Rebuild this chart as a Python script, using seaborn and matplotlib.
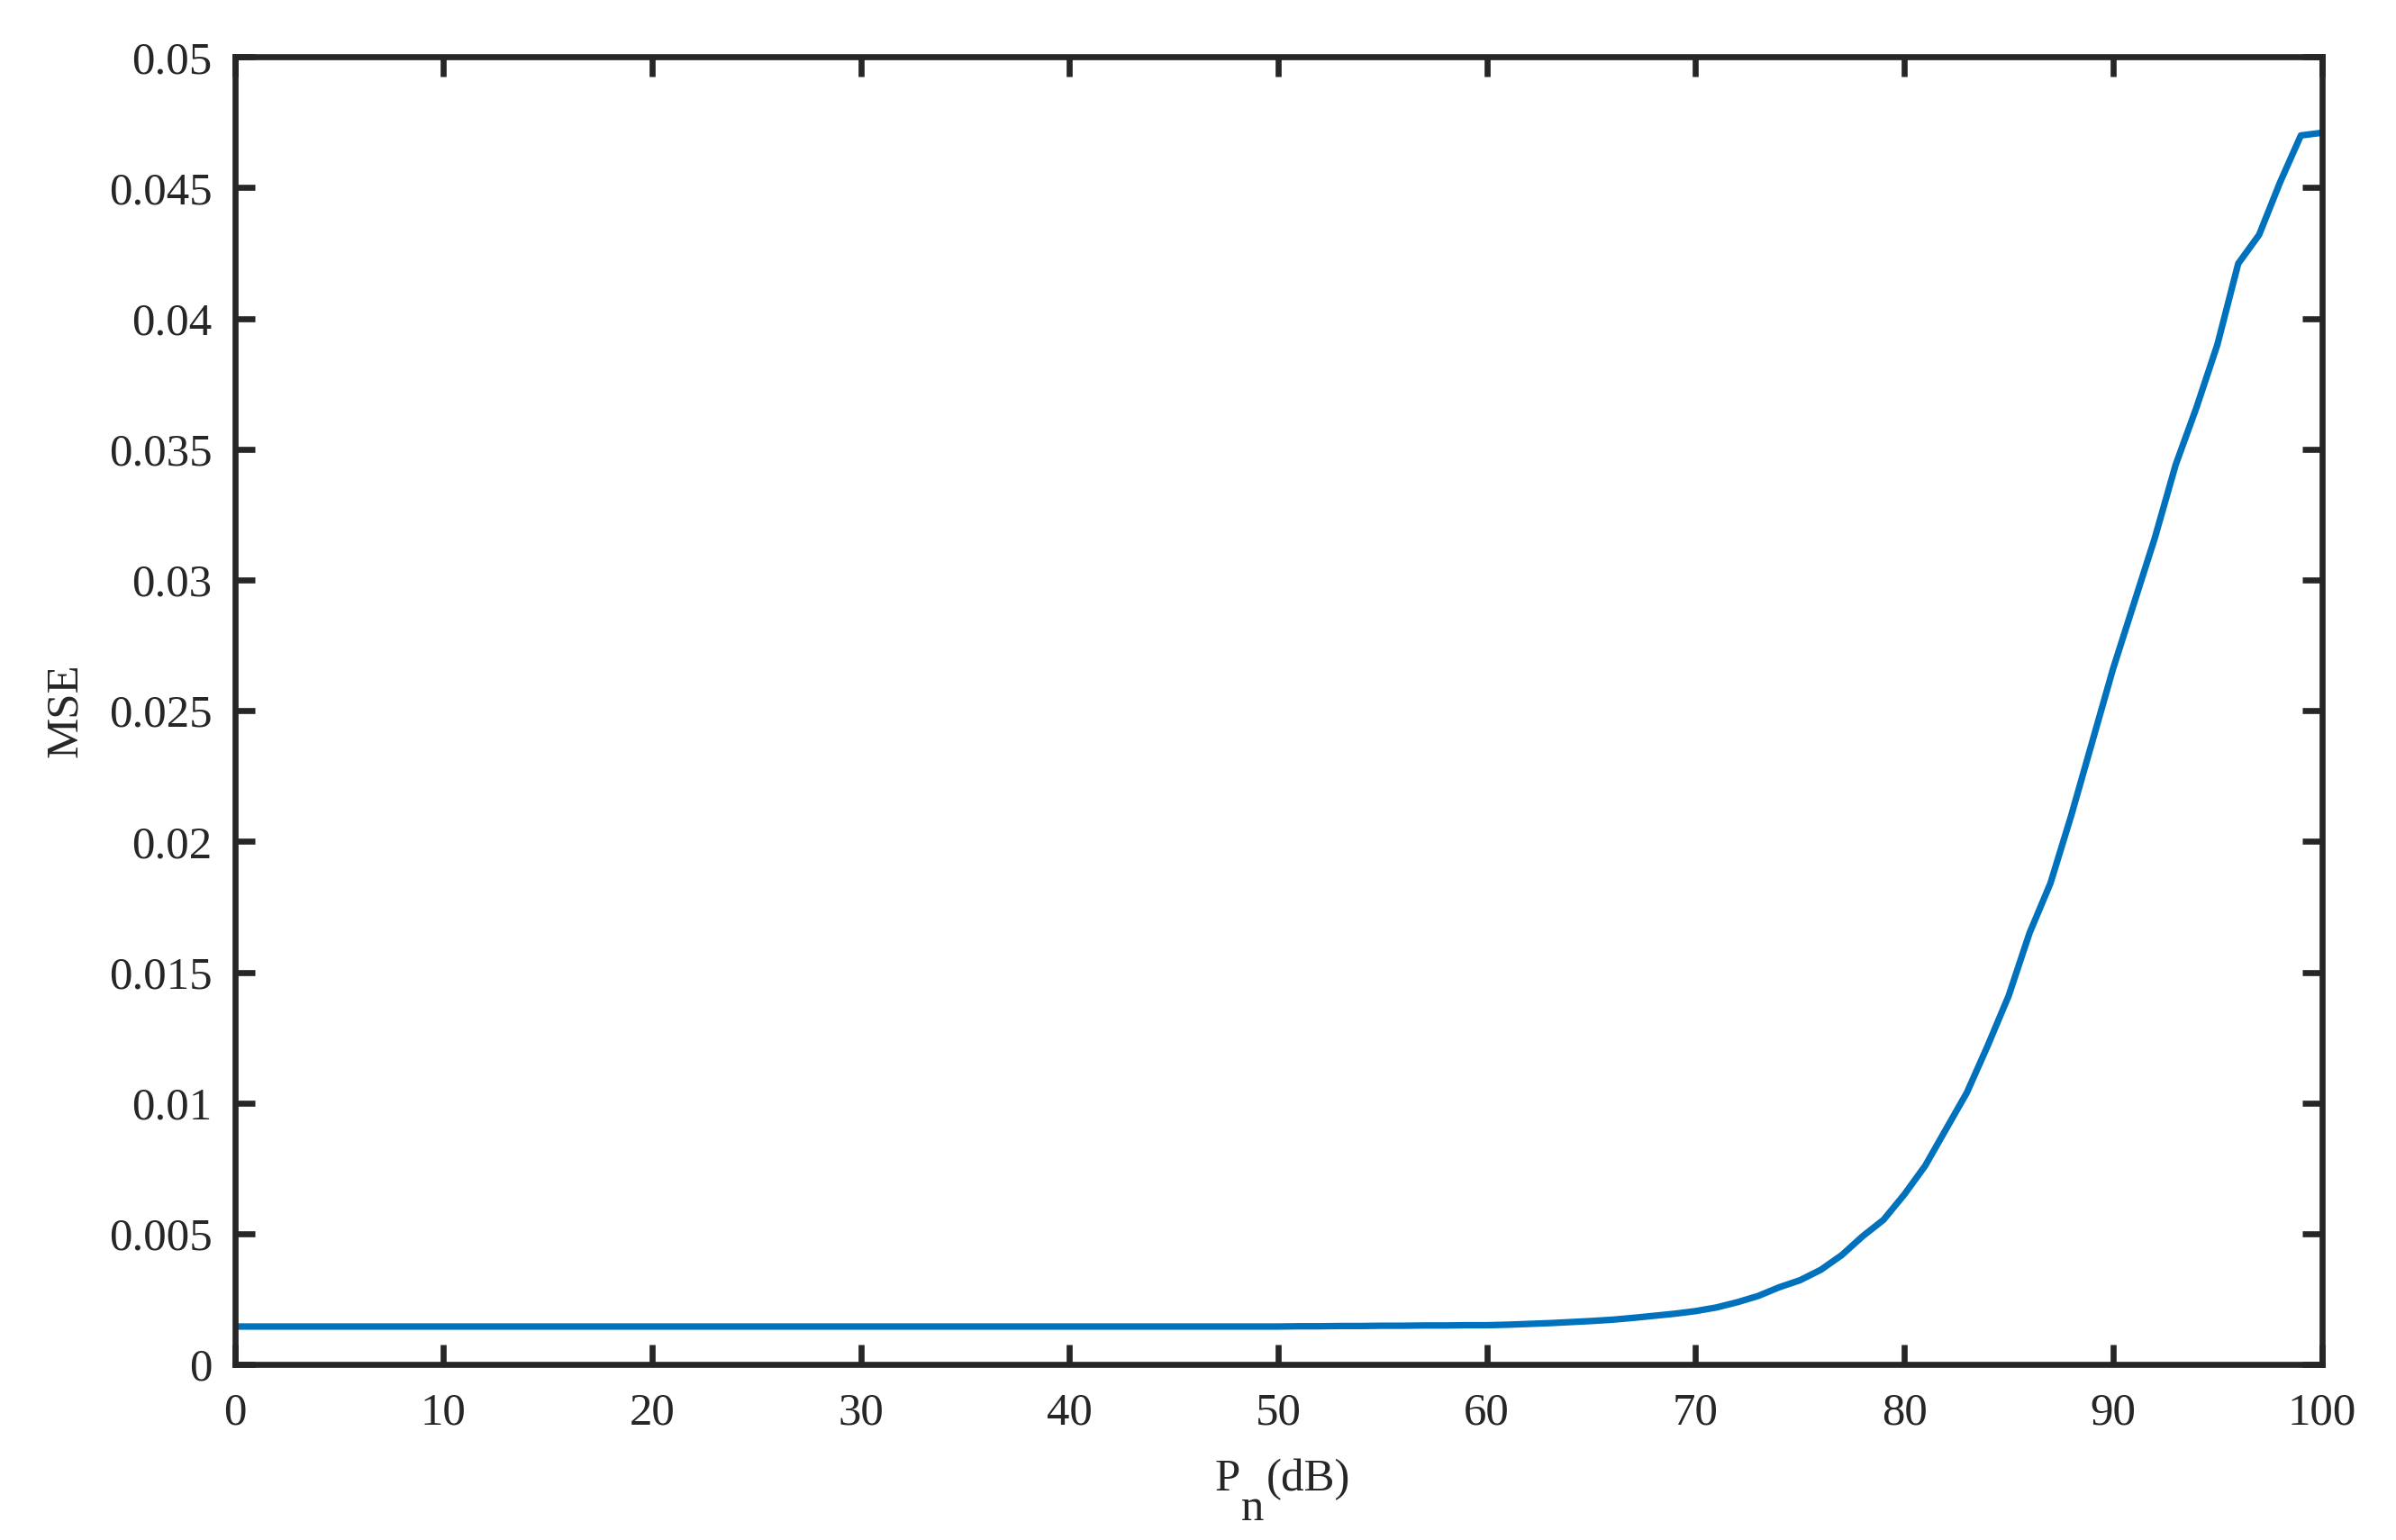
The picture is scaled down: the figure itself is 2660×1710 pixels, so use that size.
import numpy as np
import pandas as pd
import matplotlib
matplotlib.use("Agg")
import matplotlib.pyplot as plt
import seaborn as sns

# noise power (dB) and MSE
pn_db = list(range(0, 101))
mse_flat = [0.00145] * 51 + [0.00146, 0.00146, 0.00147, 0.00147, 0.00148,
                             0.00148, 0.00149, 0.00149, 0.00150]
mse_tail = [0.00150, 0.00152, 0.00155, 0.00158, 0.00162, 0.00166, 0.00171,
            0.00178, 0.00186, 0.00194, 0.00204, 0.00218, 0.00238, 0.00262,
            0.00295, 0.00322, 0.00362, 0.00418, 0.00490, 0.00553, 0.00650,
            0.00760, 0.00900, 0.01040, 0.01220, 0.01410, 0.01650, 0.01840,
            0.02100, 0.02380, 0.02660, 0.02910, 0.03160, 0.03440, 0.03660,
            0.03900, 0.04210, 0.04320, 0.04520, 0.04700, 0.04710]
mse = mse_flat + mse_tail

x_ticks = list(range(0, 101, 10))
y_ticks = [0, 0.005, 0.01, 0.015, 0.02, 0.025, 0.03, 0.035, 0.04, 0.045, 0.05]
y_tick_labels = ["0", "0.005", "0.01", "0.015", "0.02", "0.025", "0.03",
                 "0.035", "0.04", "0.045", "0.05"]

df = pd.DataFrame({"Pn": pn_db, "MSE": mse})

sns.set_theme(style="ticks")
dark = "#262626"
fs = 18.3
plt.rcParams["font.family"] = ["Liberation Serif", "DejaVu Serif"]

fig = plt.figure(figsize=(13.3, 8.55), dpi=200)
ax = fig.add_axes([0.098, 0.114, 0.871, 0.849])

sns.lineplot(data=df, x="Pn", y="MSE", ax=ax, color="#0072BD", linewidth=2.6)

ax.set_xlim(0, 100)
ax.set_ylim(0, 0.05)
ax.set_xticks(x_ticks)
ax.set_yticks(y_ticks)
ax.set_yticklabels(y_tick_labels)
ax.set_xlabel("")

for side in ["top", "right", "bottom", "left"]:
    ax.spines[side].set_visible(True)
    ax.spines[side].set_linewidth(2.4)
    ax.spines[side].set_color(dark)

ax.tick_params(axis="both", direction="in", length=8, width=2.4,
               color=dark, labelcolor=dark, labelsize=fs,
               top=True, right=True)
ax.tick_params(axis="x", pad=11)
ax.tick_params(axis="y", pad=9)

ax.set_ylabel("MSE", fontsize=fs, color=dark)
ax.yaxis.set_label_coords(-0.071, 0.5)

# x label "P_n(dB)" with a full-size, lowered subscript like the original
p = ax.annotate("P", xy=(0.5, 0), xycoords="axes fraction",
                xytext=(-25.5, -50.4), textcoords="offset points",
                ha="left", va="baseline", fontsize=fs, color=dark)
n = ax.annotate("n", xy=(1, 0), xycoords=(p, "axes fraction"),
                xytext=(0.5, -62.4), textcoords="offset points",
                ha="left", va="baseline", fontsize=fs, color=dark)
ax.annotate("(dB)", xy=(1, 0), xycoords=(n, "axes fraction"),
            xytext=(1, -50.4), textcoords="offset points",
            ha="left", va="baseline", fontsize=fs, color=dark)

fig.savefig("out.png", dpi=200, facecolor="white")
